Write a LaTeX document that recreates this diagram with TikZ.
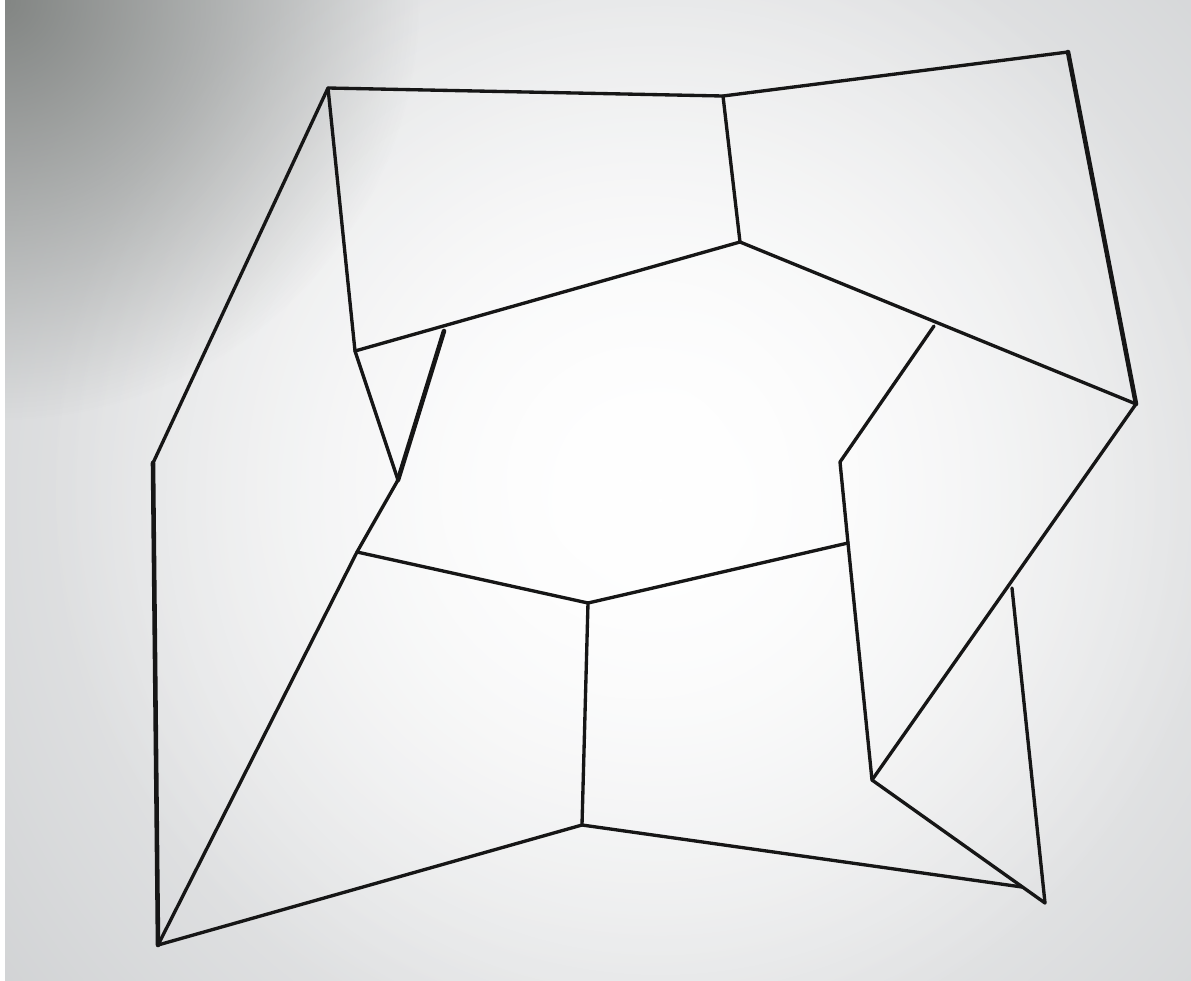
\documentclass[tikz,border=0pt]{standalone}
\usetikzlibrary{fadings}
\definecolor{ink}{HTML}{161616}
\definecolor{paper}{HTML}{C8CACC}
\definecolor{shadow}{HTML}{828583}
\tikzfading[name=soft edge,inner color=transparent!0,outer color=transparent!100]

\begin{document}
\begin{tikzpicture}[x=0.02cm,y=-0.02cm,line join=round,line cap=round]
  \tikzset{pen/.style={ink,line width=1.9pt},
           heavy/.style={pen,line width=2.6pt}}

  % sheet of paper
  \useasboundingbox (0,0) rectangle (1191,981);
  \fill[paper] (0,0) rectangle (1191,981);
  \begin{scope}
    \clip (0,0) rectangle (1191,981);
    \fill[white,path fading=soft edge] (660,500) circle (1000);
    \fill[white,path fading=soft edge] (640,480) circle (600);
    \fill[shadow,path fading=soft edge] (0,0) circle (420);
  \end{scope}
  \fill[white] (0,0) rectangle (5,981);

  % corners of the sketch
  \coordinate (A) at (328,88);
  \coordinate (B) at (723,96);
  \coordinate (C) at (1068,52);
  \coordinate (D) at (1136,404);
  \coordinate (E) at (740,242);
  \coordinate (F) at (355,351);
  \coordinate (G) at (153,463);
  \coordinate (H) at (158,945);
  \coordinate (P) at (444,331);
  \coordinate (Q) at (398,480);
  \coordinate (R) at (357,552);
  \coordinate (S) at (588,603);
  \coordinate (T) at (848,543);
  \coordinate (U) at (582,825);
  \coordinate (V) at (934,326);
  \coordinate (W) at (840,462);
  \coordinate (K) at (872,780);
  \coordinate (J) at (1045,903);
  \coordinate (L) at (1012,588);
  \coordinate (M) at (1022,887);

  % outer frame
  \draw[pen] (G) -- (A) -- (B) -- (C);
  \draw[heavy] (C) -- (D);
  \draw[heavy] (G) -- (H);
  \draw[pen] (H) -- (U) -- (M);

  % upper box
  \draw[pen] (A) -- (F) -- (E) -- (D);
  \draw[pen] (B) -- (E);

  % left wedge
  \draw[pen] (F) -- (Q);
  \draw[heavy] (P) -- (Q);
  \draw[pen] (Q) -- (R) -- (H);

  % lower box
  \draw[pen] (R) -- (S) -- (T);
  \draw[pen] (S) -- (U);

  % right wedge
  \draw[pen] (V) -- (W) -- (T) -- (K) -- (J);
  \draw[pen] (D) -- (K);
  \draw[pen] (L) -- (J);
\end{tikzpicture}
\end{document}
